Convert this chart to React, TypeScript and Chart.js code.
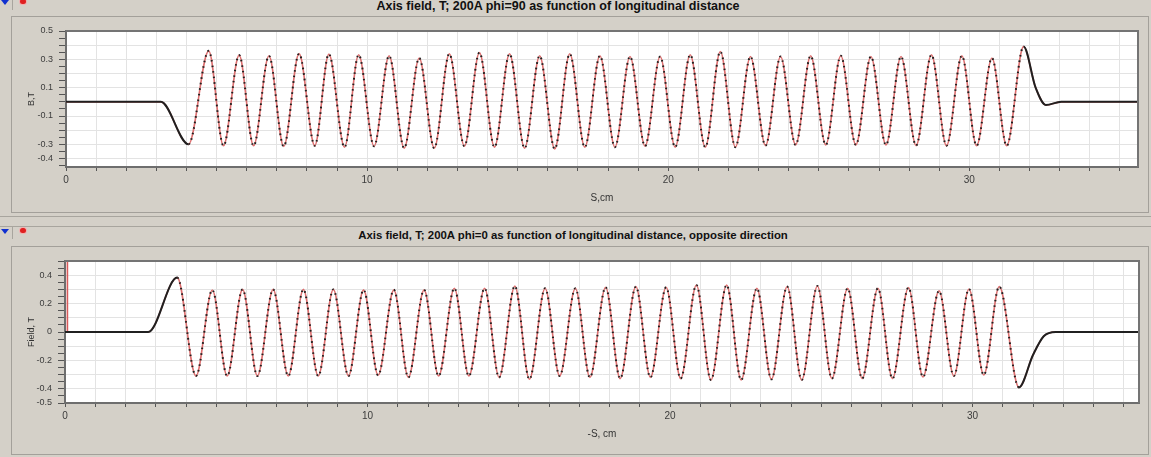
import React, { useEffect, useRef } from "react";
import { Chart, registerables } from "chart.js";
Chart.register(...registerables);

// ---------- Top chart: Axis field, phi=90 ----------
const topX = [0, 3.15, 4.07, 4.74, 5.23, 5.75, 6.23, 6.74, 7.23, 7.74, 8.26, 8.73, 9.25, 9.72, 10.23, 10.73, 11.23, 11.73, 12.23, 12.73, 13.23, 13.73, 14.23, 14.73, 15.23, 15.73, 16.23, 16.73, 17.23, 17.73, 18.23, 18.73, 19.23, 19.73, 20.23, 20.73, 21.23, 21.73, 22.23, 22.73, 23.23, 23.73, 24.23, 24.73, 25.23, 25.73, 26.23, 26.73, 27.23, 27.73, 28.23, 28.74, 29.24, 29.75, 30.24, 30.75, 31.24, 31.8, 32.2, 32.54, 33.05, 35.6];
const topY = [0, 0, -0.3, 0.36, -0.31, 0.33, -0.31, 0.325, -0.315, 0.34, -0.31, 0.337, -0.32, 0.332, -0.313, 0.325, -0.327, 0.309, -0.327, 0.339, -0.313, 0.348, -0.32, 0.339, -0.327, 0.325, -0.332, 0.339, -0.32, 0.325, -0.32, 0.32, -0.313, 0.32, -0.32, 0.332, -0.32, 0.355, -0.32, 0.32, -0.309, 0.32, -0.304, 0.325, -0.304, 0.325, -0.304, 0.32, -0.304, 0.32, -0.309, 0.332, -0.31, 0.325, -0.31, 0.309, -0.31, 0.39, 0.1, -0.022, 0, 0];
const topYLabels = [0.5, 0.3, 0.1, -0.1, -0.3, -0.4];
const topXLabels = [0, 10, 20, 30];

// ---------- Bottom chart: Axis field, phi=0, opposite direction ----------
const bottomX = [0, 2.75, 3.71, 4.33, 4.87, 5.36, 5.87, 6.36, 6.88, 7.38, 7.88, 8.37, 8.87, 9.37, 9.87, 10.35, 10.87, 11.35, 11.87, 12.35, 12.87, 13.35, 13.87, 14.35, 14.87, 15.35, 15.87, 16.35, 16.87, 17.35, 17.87, 18.35, 18.87, 19.35, 19.87, 20.35, 20.87, 21.35, 21.87, 22.35, 22.87, 23.35, 23.87, 24.35, 24.87, 25.35, 25.87, 26.35, 26.87, 27.35, 27.88, 28.36, 28.89, 29.38, 29.88, 30.37, 30.88, 31.53, 32.0, 32.35, 32.75, 35.5];
const bottomY = [0, 0, 0.383, -0.31, 0.296, -0.31, 0.3, -0.31, 0.3, -0.31, 0.3, -0.31, 0.3, -0.31, 0.297, -0.305, 0.297, -0.32, 0.297, -0.31, 0.308, -0.31, 0.308, -0.32, 0.324, -0.333, 0.308, -0.31, 0.308, -0.32, 0.315, -0.328, 0.32, -0.32, 0.315, -0.328, 0.331, -0.338, 0.331, -0.338, 0.308, -0.333, 0.32, -0.338, 0.324, -0.328, 0.308, -0.328, 0.308, -0.328, 0.313, -0.317, 0.29, -0.31, 0.303, -0.303, 0.32, -0.39, -0.16, -0.03, 0, 0];
const bottomMarkerX = [0.08, 0.08];
const bottomMarkerY = [0, 0.5];
const bottomYLabels = [0.4, 0.2, 0, -0.2, -0.4, -0.5];
const bottomXLabels = [0, 10, 20, 30];

const BG = "#d4d0c8";
const FONT = '"Liberation Sans", Arial, sans-serif';

const near = (a: number, b: number) => Math.abs(a - b) < 1e-6;
const isTenth = (v: number) => near(v * 10, Math.round(v * 10));

const framePlugin = {
  id: "frame",
  beforeDraw(chart: any) {
    const { ctx, chartArea: a } = chart;
    ctx.save();
    ctx.fillStyle = "#ffffff";
    ctx.fillRect(a.left, a.top, a.right - a.left, a.bottom - a.top);
    ctx.restore();
  },
  afterDraw(chart: any) {
    const { ctx, chartArea: a } = chart;
    ctx.save();
    ctx.strokeStyle = "#747474";
    ctx.lineWidth = 2;
    ctx.beginPath();
    ctx.moveTo(a.left, a.top);
    ctx.lineTo(a.right, a.top);
    ctx.lineTo(a.right, a.bottom);
    ctx.stroke();
    ctx.restore();
  },
};

type P = {
  xs: number[];
  ys: number[];
  xMax: number;
  yMin: number;
  yMax: number;
  yLabels: number[];
  xLabels: number[];
  xTitle: string;
  yTitle: string;
  oscStart: number;
  oscEnd: number;
  yWidth: number;
  xHeight: number;
  xTitlePad: number;
  padRight: number;
  padTop: number;
  marker?: { xs: number[]; ys: number[] };
};

function buildConfig(p: P): any {
  const pts = p.xs.map((x, i) => ({ x, y: p.ys[i] }));
  const yTickVals: number[] = [];
  for (let i = 0; ; i++) {
    const v = Math.round((p.yMax - i * 0.05) * 100) / 100;
    if (v < p.yMin - 1e-9) break;
    yTickVals.push(v);
  }
  const xTickVals: number[] = [];
  for (let v = 0; v <= p.xMax; v += 1) xTickVals.push(v);

  const datasets: any[] = [
    {
      data: pts,
      borderColor: "#202020",
      borderWidth: 2,
      pointRadius: 0,
      cubicInterpolationMode: "monotone",
      segment: {
        borderDash: (ctx: any) =>
          ctx.p1.parsed.x <= p.oscStart + 1e-9 || ctx.p0.parsed.x >= p.oscEnd - 1e-9 ? [] : [1.6, 4],
      },
    },
    {
      data: pts,
      borderColor: "#dd6f6f",
      borderWidth: 1.6,
      pointRadius: 0,
      cubicInterpolationMode: "monotone",
    },
  ];
  if (p.marker) {
    datasets.push({
      data: p.marker.xs.map((x, i) => ({ x, y: p.marker!.ys[i] })),
      borderColor: "#d85a5a",
      borderWidth: 1.6,
      pointRadius: 0,
      tension: 0,
      clip: 4,
    });
  }

  return {
    type: "line",
    data: { datasets },
    plugins: [framePlugin],
    options: {
      animation: false,
      responsive: false,
      devicePixelRatio: 1,
      events: [],
      layout: { padding: { top: p.padTop, right: p.padRight, left: 0, bottom: 0 } },
      plugins: { legend: { display: false }, tooltip: { enabled: false } },
      scales: {
        x: {
          type: "linear",
          min: 0,
          max: p.xMax,
          afterBuildTicks: (s: any) => {
            s.ticks = xTickVals.map((v) => ({ value: v }));
          },
          afterFit: (s: any) => {
            s.height = p.xHeight;
          },
          ticks: {
            autoSkip: false,
            maxRotation: 0,
            padding: 3,
            color: "#3c3c3c",
            font: { family: FONT, size: 10 },
            callback: (v: number) => (p.xLabels.some((l) => near(l, v)) ? String(v) : ""),
          },
          grid: { color: "#e3e3e3", lineWidth: 1, tickLength: 4, tickColor: "#555" },
          border: { display: true, color: "#6e6e6e", width: 2 },
          title: {
            display: true,
            text: p.xTitle,
            color: "#333",
            font: { family: FONT, size: 10 },
            padding: { top: 0, bottom: p.xTitlePad },
          },
        },
        y: {
          type: "linear",
          min: p.yMin,
          max: p.yMax,
          afterBuildTicks: (s: any) => {
            s.ticks = yTickVals.map((v) => ({ value: v }));
          },
          afterFit: (s: any) => {
            s.width = p.yWidth;
          },
          ticks: {
            autoSkip: false,
            padding: 6,
            color: "#3c3c3c",
            font: { family: FONT, size: 9 },
            callback: (v: number) => {
              const l = p.yLabels.find((q) => near(q, v));
              return l === undefined ? "" : String(l);
            },
          },
          grid: {
            color: (c: any) => (c.tick && isTenth(c.tick.value) ? "#e3e3e3" : "rgba(0,0,0,0)"),
            lineWidth: 1,
            tickLength: 7,
            tickColor: "#555",
          },
          border: { display: true, color: "#6e6e6e", width: 2 },
          title: {
            display: true,
            text: p.yTitle,
            color: "#333",
            font: { family: FONT, size: 9 },
            padding: { top: 14, bottom: 0 },
          },
        },
      },
    },
  };
}

function ChartCanvas({ cfg, left, top, width, height }: { cfg: P; left: number; top: number; width: number; height: number }) {
  const ref = useRef<HTMLCanvasElement>(null);
  useEffect(() => {
    const chart = new Chart(ref.current as HTMLCanvasElement, buildConfig(cfg));
    return () => chart.destroy();
  }, []);
  return (
    <canvas
      ref={ref}
      width={width}
      height={height}
      style={{ position: "absolute", left, top, width, height, display: "block" }}
    />
  );
}

const abs = (s: any) => ({ position: "absolute" as const, ...s });

function Icons({ top }: { top: number }) {
  return (
    <>
      <div
        style={abs({
          left: 1,
          top,
          width: 0,
          height: 0,
          borderLeft: "4px solid transparent",
          borderRight: "4px solid transparent",
          borderTop: "5px solid #1030d0",
        })}
      />
      <div style={abs({ left: 20, top: top - 1, width: 6, height: 5, borderRadius: 3, background: "#e02020", boxShadow: "0 0 0 1px #f0b0b0" })} />
      <div style={abs({ left: 12, top: top - 3, width: 1, height: 13, background: "#a8a59e" })} />
    </>
  );
}

export default function App() {
  const topCfg: P = {
    xs: topX,
    ys: topY,
    xMax: 35.6,
    yMin: -0.46,
    yMax: 0.5,
    yLabels: topYLabels,
    xLabels: topXLabels,
    xTitle: "S,cm",
    yTitle: "B,T",
    oscStart: 4.07,
    oscEnd: 31.8,
    yWidth: 54,
    xHeight: 43,
    xTitlePad: 6,
    padRight: 9,
    padTop: 13,
  };
  const bottomCfg: P = {
    xs: bottomX,
    ys: bottomY,
    xMax: 35.5,
    yMin: -0.5,
    yMax: 0.5,
    yLabels: bottomYLabels,
    xLabels: bottomXLabels,
    xTitle: "-S, cm",
    yTitle: "Field, T",
    oscStart: 3.71,
    oscEnd: 31.53,
    yWidth: 53,
    xHeight: 49,
    xTitlePad: 12,
    padRight: 8,
    padTop: 13,
    marker: { xs: bottomMarkerX, ys: bottomMarkerY },
  };
  return (
    <div style={abs({ left: 0, top: 0, width: 1151, height: 457, background: BG, overflow: "hidden", fontFamily: FONT })}>
      {/* top title bar */}
      <Icons top={0} />
      <div
        style={abs({
          left: 0,
          top: -1,
          width: 1116,
          textAlign: "center",
          fontSize: 12.5,
          lineHeight: "14px",
          fontWeight: "bold",
          color: "#111",
          whiteSpace: "nowrap",
        })}
      >
        Axis field, T; 200A phi=90 as function of longitudinal distance
      </div>
      {/* top panel */}
      <div style={abs({ left: 11, top: 16, width: 1136, height: 195, border: "1px solid #a3a09a" })} />
      <ChartCanvas cfg={topCfg} left={12} top={18} width={1135} height={192} />

      {/* separators */}
      <div style={abs({ left: 0, top: 216, width: 1151, height: 1, background: "#a8a59e" })} />
      <div style={abs({ left: 0, top: 226, width: 1151, height: 1, background: "#a8a59e" })} />

      {/* bottom title bar */}
      <Icons top={229} />
      <div
        style={abs({
          left: 0,
          top: 229,
          width: 1146,
          textAlign: "center",
          fontSize: 11.4,
          lineHeight: "13px",
          fontWeight: "bold",
          color: "#111",
          whiteSpace: "nowrap",
        })}
      >
        Axis field, T; 200A phi=0 as function of longitudinal distance, opposite direction
      </div>
      {/* bottom panel */}
      <div style={abs({ left: 11, top: 246, width: 1136, height: 207, border: "1px solid #a3a09a" })} />
      <ChartCanvas cfg={bottomCfg} left={12} top={248} width={1135} height={204} />
    </div>
  );
}
